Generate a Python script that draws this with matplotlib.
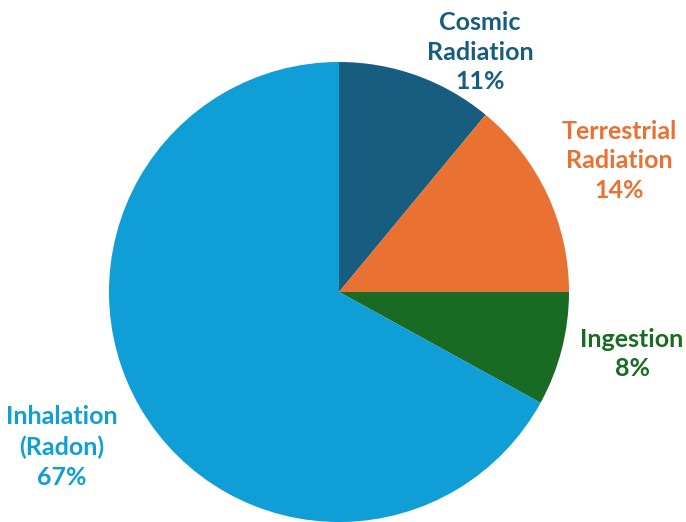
import matplotlib
matplotlib.use("Agg")
import matplotlib.pyplot as plt
import matplotlib.patheffects as pe

# data
categories = ["Cosmic\nRadiation", "Terrestrial\nRadiation", "Ingestion", "Inhalation\n(Radon)"]
shares = [11, 14, 8, 67]
colors = ["#175d80", "#e97132", "#196b24", "#0f9ed5"]

W, H = 686, 522
fig = plt.figure(figsize=(W / 100, H / 100), dpi=100)
ax = fig.add_axes([0, 0, 1, 1])

cx, cy, r = 339, H - 292, 230
wedges, _ = ax.pie(shares, colors=colors, startangle=90, counterclock=False,
                   center=(cx, cy), radius=r, frame=True,
                   wedgeprops=dict(linewidth=0))
for w in wedges:
    w.set_path_effects([pe.SimplePatchShadow(offset=(0, 0), alpha=0.12, shadow_rgbFace="gray"),
                        pe.Normal()])
ax.set_xlim(0, W)
ax.set_ylim(0, H)
ax.set_aspect("equal")
ax.axis("off")

# label centres (image pixels)
label_pos = [(480, 52), (619, 161), (632, 354), (62, 447)]
for cat, val, col, (lx, ly) in zip(categories, shares, colors, label_pos):
    ax.text(lx, H - ly, f"{cat}\n{val}%", color=col, fontsize=18,
            fontweight="bold", family="Lato", ha="center", va="center",
            linespacing=1.36)

fig.savefig("out.png", dpi=100)
